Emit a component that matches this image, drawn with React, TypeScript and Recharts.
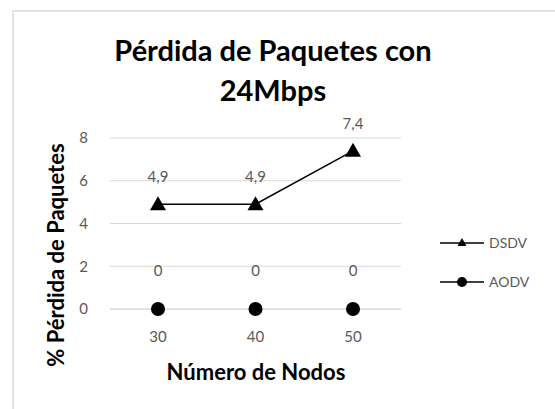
import React from "react";
import { LineChart, Line, XAxis, YAxis, CartesianGrid, LabelList } from "recharts";

const nodos = ["30", "40", "50"];
const dsdv = [4.9, 4.9, 7.4];
const aodv = [0, 0, 0];
const yTicks = [0, 2, 4, 6, 8];
const seriesNames = ["DSDV", "AODV"];

const data = nodos.map((n, i) => ({ nodos: n, DSDV: dsdv[i], AODV: aodv[i] }));

const FONT = "Lato, 'Open Sans', sans-serif";
const fmt = (v: any) => String(v).replace(".", ",");

const Triangle = (props: any) => {
  const { cx, cy } = props;
  if (cx == null || cy == null) return null;
  return <polygon points={`${cx},${cy - 8} ${cx - 8},${cy + 6} ${cx + 8},${cy + 6}`} fill="#000" />;
};
const Dot = (props: any) => {
  const { cx, cy } = props;
  if (cx == null || cy == null) return null;
  return <circle cx={cx} cy={cy} r={7} fill="#000" />;
};

const LegendBox = () => (
  <svg width={110} height={70} style={{ position: "absolute", left: 438, top: 230 }}>
    <line x1={2} y1={13} x2={46} y2={13} stroke="#000" strokeWidth={1.5} />
    <polygon points="24,8 19.5,16 28.5,16" fill="#000" />
    <text x={51} y={18} fontFamily={FONT} fontSize={14} fill="#595959">{seriesNames[0]}</text>
    <line x1={2} y1={52} x2={46} y2={52} stroke="#000" strokeWidth={1.5} />
    <circle cx={24} cy={52} r={5} fill="#000" />
    <text x={51} y={57} fontFamily={FONT} fontSize={14} fill="#595959">{seriesNames[1]}</text>
  </svg>
);

const tickStyle = { fontFamily: FONT, fontSize: 15, fill: "#595959" };

export default function App() {
  return (
    <div style={{ position: "absolute", left: 0, top: 0, width: 555, height: 409, background: "#fff", overflow: "hidden" }}>
      <div style={{ position: "absolute", left: 12, top: 10, width: 560, height: 420, borderTop: "2px solid #e3e3e3", borderLeft: "2px solid #e3e3e3" }} />
      <div style={{ position: "absolute", left: 0, top: 30, width: 546, textAlign: "center", fontFamily: FONT, fontWeight: 700, fontSize: 29, lineHeight: "40px", color: "#000" }}>
        Pérdida de Paquetes con<br />24Mbps
      </div>
      <div style={{ position: "absolute", left: 0, top: 0 }}>
        <LineChart width={555} height={409} data={data} margin={{ top: 138, right: 154, bottom: 70, left: 80 }}>
          <CartesianGrid horizontal vertical={false} stroke="#d9d9d9" strokeWidth={1} />
          <XAxis dataKey="nodos" axisLine={{ stroke: "#d9d9d9" }} tickLine={false} padding={{ left: 48, right: 48 }}
            tick={tickStyle} tickMargin={16} height={30} />
          <YAxis domain={[0, 8]} ticks={yTicks} axisLine={false} tickLine={false} width={30}
            tick={tickStyle} tickMargin={16} />
          <Line dataKey="DSDV" name={seriesNames[0]} stroke="#000" strokeWidth={1.5} dot={<Triangle />} isAnimationActive={false}>
            <LabelList dataKey="DSDV" position="top" offset={22} formatter={fmt} style={tickStyle} />
          </Line>
          <Line dataKey="AODV" name={seriesNames[1]} stroke="none" strokeWidth={0} dot={<Dot />} isAnimationActive={false}>
            <LabelList dataKey="AODV" position="top" offset={33} formatter={fmt} style={tickStyle} />
          </Line>
        </LineChart>
      </div>
      <LegendBox />
      <div style={{ position: "absolute", left: 130, top: 358, width: 252, textAlign: "center", fontFamily: FONT, fontWeight: 700, fontSize: 22, lineHeight: "28px", color: "#000" }}>
        Número de Nodos
      </div>
      <div style={{ position: "absolute", left: 56 - 140, top: 255 - 14, width: 280, textAlign: "center", transform: "rotate(-90deg)", fontFamily: FONT, fontWeight: 700, fontSize: 22, lineHeight: "28px", color: "#000" }}>
        % Pérdida de Paquetes
      </div>
    </div>
  );
}
